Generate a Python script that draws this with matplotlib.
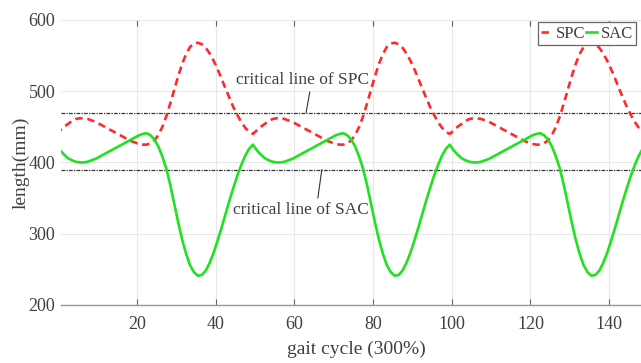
import numpy as np
import matplotlib
matplotlib.use('Agg')
import matplotlib.pyplot as plt

plt.rcParams['font.family'] = ['Liberation Serif', 'DejaVu Serif']

# gait cycle samples (every 1 %)
gait = np.arange(-0.5, 150, 1)

# SPC length (mm), one row per gait cycle
spc = [440, 445, 450, 454, 458, 461, 462, 462, 461, 459, 457, 454, 451, 448, 445, 442, 439, 436, 433, 430, 428, 426, 425, 425, 427,
       431, 439, 450, 465, 483, 502, 521, 538, 552, 562, 567, 568, 566, 561, 553, 543, 531, 518, 504, 491, 478, 467, 457, 449, 443,
       440, 445, 450, 454, 458, 461, 462, 462, 461, 459, 457, 454, 451, 448, 445, 442, 439, 436, 433, 430, 428, 426, 425, 425, 427,
       431, 439, 450, 465, 483, 502, 521, 538, 552, 562, 567, 568, 566, 561, 553, 543, 531, 518, 504, 491, 478, 467, 457, 449, 443,
       440, 445, 450, 454, 458, 461, 462, 462, 461, 459, 457, 454, 451, 448, 445, 442, 439, 436, 433, 430, 428, 426, 425, 425, 427,
       431, 439, 450, 465, 483, 502, 521, 538, 552, 562, 567, 568, 566, 561, 553, 543, 531, 518, 504, 491, 478, 467, 457, 449, 443,
       440]

# SAC length (mm)
sac = [425, 417, 411, 406, 403, 401, 400, 400, 401, 403, 405, 408, 411, 414, 417, 420, 423, 426, 429, 432, 435, 438, 440, 441, 438,
       432, 422, 408, 391, 368, 342, 316, 292, 272, 256, 246, 241, 242, 248, 259, 273, 290, 308, 327, 346, 364, 381, 396, 409, 419,
       425, 417, 411, 406, 403, 401, 400, 400, 401, 403, 405, 408, 411, 414, 417, 420, 423, 426, 429, 432, 435, 438, 440, 441, 438,
       432, 422, 408, 391, 368, 342, 316, 292, 272, 256, 246, 241, 242, 248, 259, 273, 290, 308, 327, 346, 364, 381, 396, 409, 419,
       425, 417, 411, 406, 403, 401, 400, 400, 401, 403, 405, 408, 411, 414, 417, 420, 423, 426, 429, 432, 435, 438, 440, 441, 438,
       432, 422, 408, 391, 368, 342, 316, 292, 272, 256, 246, 241, 242, 248, 259, 273, 290, 308, 327, 346, 364, 381, 396, 409, 419,
       425]

critSPC = 470
critSAC = 390
xticks = [20, 40, 60, 80, 100, 120, 140]
yticks = [200, 300, 400, 500, 600]

txtColor = '#404040'

fig = plt.figure(figsize=(6.41, 3.63), dpi=100)
ax = fig.add_axes([0.095, 0.160, 0.905, 0.785])

ax.grid(True, color='#e8e8e8', lw=0.8, zorder=0)
ax.set_axisbelow(True)

ax.axhline(critSPC, color='#333333', lw=0.9, ls=(0, (3, 1, 1, 1)), zorder=2)
ax.axhline(critSAC, color='#333333', lw=0.9, ls=(0, (3, 1, 1, 1)), zorder=2)

ax.plot(gait, spc, color='#ff2a2a', lw=1.9, ls=(0, (2.8, 1.8)), label='SPC', zorder=3)
ax.plot(gait, sac, color='#22e022', lw=1.9, label='SAC', zorder=3)

ax.annotate('critical line of SPC', xy=(63.0, critSPC), xytext=(62.1, 516),
            ha='center', va='center', fontsize=12.5, color=txtColor,
            arrowprops=dict(arrowstyle='-', color='#333333', lw=0.8, relpos=(0.56, 0.0), shrinkA=1, shrinkB=0))
ax.annotate('critical line of SAC', xy=(67.0, critSAC), xytext=(61.7, 333),
            ha='center', va='center', fontsize=12.5, color=txtColor,
            arrowprops=dict(arrowstyle='-', color='#333333', lw=0.8, relpos=(0.62, 1.0), shrinkA=1, shrinkB=0))

ax.set_xlim(0.7, 148.1)
ax.set_ylim(200, 600)
ax.set_xticks(xticks)
ax.set_yticks(yticks)
ax.tick_params(axis='x', direction='in', top=True, length=4, width=0.8, color='#666666',
               labelsize=13, labelcolor=txtColor, pad=8)
ax.tick_params(axis='y', length=0, labelsize=13, labelcolor=txtColor, pad=4)

for s in ['top', 'right', 'left']:
    ax.spines[s].set_visible(False)
ax.spines['bottom'].set_color('#999999')
ax.spines['bottom'].set_linewidth(1.0)

ax.set_xlabel('gait cycle (300%)', fontsize=14, color=txtColor)
ax.xaxis.set_label_coords(0.51, -0.125)
ax.set_ylabel('length(mm)', fontsize=14, color=txtColor)
ax.yaxis.set_label_coords(-0.054, 0.5)

leg = ax.legend(loc='upper left', bbox_to_anchor=(0.822, 0.992), ncol=2, fontsize=12,
                frameon=True, fancybox=False, edgecolor='#666666', framealpha=1,
                handlelength=0.7, handletextpad=0.2, columnspacing=0.0, borderpad=0.2,
                borderaxespad=0)
leg.get_frame().set_linewidth(0.9)
for t in leg.get_texts():
    t.set_color(txtColor)

fig.savefig('out.png', dpi=100)
